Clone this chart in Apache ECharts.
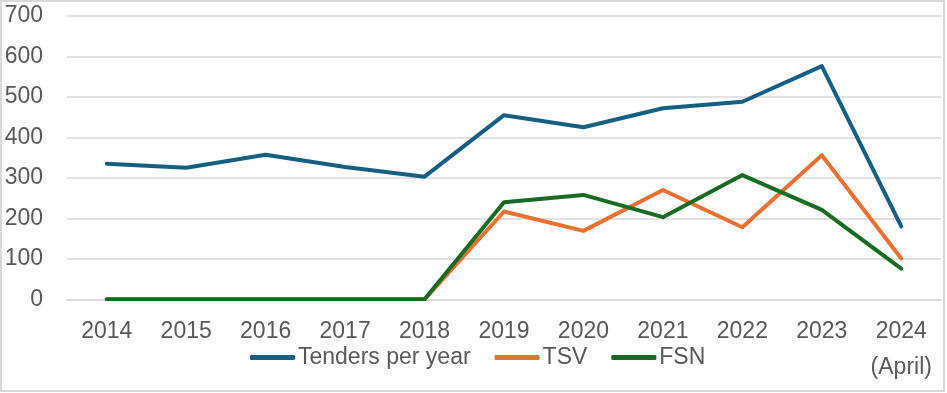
<!DOCTYPE html>
<html>
<head>
<meta charset="utf-8">
<script src="https://cdn.jsdelivr.net/npm/echarts@6/dist/echarts.min.js"></script>
<style>
html,body{margin:0;padding:0;background:#fff;}
#chart{width:947px;height:393px;}
</style>
</head>
<body>
<div id="chart"></div>
<script>
const categories = ['2014','2015','2016','2017','2018','2019','2020','2021','2022','2023','2024\n(April)'];
const tenders = [335, 325, 357, 327, 303, 455, 425, 472, 488, 576, 180];
const tsv = [0, 0, 0, 0, 0, 217, 169, 270, 178, 356, 101];
const fsn = [0, 0, 0, 0, 0, 240, 258, 203, 307, 221, 76];
const yTicks = [0, 100, 200, 300, 400, 500, 600, 700];

const FONT = '"Liberation Sans", Arial, sans-serif';
const chart = echarts.init(document.getElementById('chart'), null, {renderer: 'canvas'});
chart.setOption({
  animation: false,
  backgroundColor: '#ffffff',
  graphic: [{
    type: 'rect', silent: true, z: -1,
    shape: {x: 1, y: 1, width: 943, height: 390},
    style: {fill: 'none', stroke: '#d9d9d9', lineWidth: 2}
  }],
  grid: {left: 67, right: 6, top: 16, bottom: 93.7, containLabel: false},
  legend: {
    left: 250, top: 346, padding: 0,
    icon: 'roundRect', itemWidth: 45, itemHeight: 5, itemGap: 24,
    textStyle: {fontFamily: FONT, fontSize: 23, color: '#595959', padding: [0, 0, 0, -2]},
    data: ['Tenders per year', 'TSV', 'FSN']
  },
  xAxis: {
    type: 'category', data: categories, boundaryGap: true,
    axisLine: {show: true, lineStyle: {color: '#d9d9d9', width: 1.5}},
    axisTick: {show: false},
    axisLabel: {fontFamily: FONT, fontSize: 23, color: '#595959', margin: 14, lineHeight: 36, interval: 0}
  },
  yAxis: {
    type: 'value', min: yTicks[0], max: yTicks[yTicks.length - 1], interval: 100,
    axisLine: {show: false}, axisTick: {show: false},
    splitLine: {lineStyle: {color: '#d9d9d9', width: 1.5}},
    axisLabel: {fontFamily: FONT, fontSize: 23, color: '#595959', margin: 24}
  },
  series: [
    {name: 'Tenders per year', type: 'line', data: tenders, symbol: 'none', color: '#156082',
     lineStyle: {width: 4, color: '#156082', cap: 'round', join: 'round'}},
    {name: 'TSV', type: 'line', data: tsv, symbol: 'none', color: '#E97132',
     lineStyle: {width: 4, color: '#E97132', cap: 'round', join: 'round'}},
    {name: 'FSN', type: 'line', data: fsn, symbol: 'none', color: '#196B24',
     lineStyle: {width: 4, color: '#196B24', cap: 'round', join: 'round'}}
  ]
});
</script>
</body>
</html>
